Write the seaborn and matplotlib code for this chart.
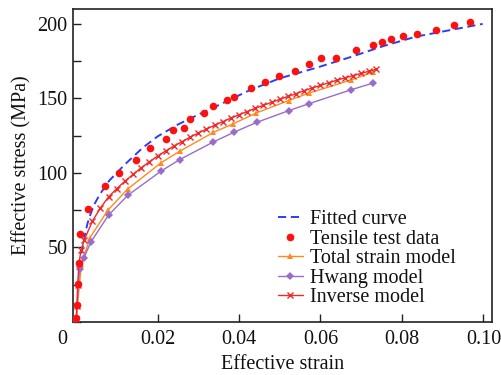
import matplotlib
matplotlib.use("Agg")
import matplotlib.pyplot as plt
import matplotlib.transforms as mtrans
from matplotlib.ticker import MultipleLocator, FixedLocator
from matplotlib.lines import Line2D
import seaborn as sns
import pandas as pd

# ---------------- data ----------------
fit_strain = [0.0013, 0.0017, 0.0022, 0.0028, 0.0035, 0.0045, 0.0058, 0.0082, 0.0119,
              0.0164, 0.020, 0.025, 0.0303, 0.035, 0.0426, 0.050, 0.0589, 0.0671,
              0.0753, 0.0835, 0.0998]
fit_stress = [46, 51, 59, 66, 72, 79, 85.5, 95, 105.5,
              117, 124.5, 132.5, 139.5, 145.5, 155.5, 163.5, 170.5, 177.5,
              185, 191.5, 200]

test_strain = [0.00005, 0.0002, 0.00044, 0.0007, 0.00103, 0.0029, 0.0071, 0.0105, 0.0147,
               0.0182, 0.0221, 0.0239, 0.0265, 0.0280, 0.0315, 0.0337, 0.0371, 0.0388,
               0.0430, 0.0464, 0.0498, 0.0538, 0.0571, 0.0602, 0.0638, 0.0687, 0.0728,
               0.0750, 0.0774, 0.0803, 0.0838, 0.0884, 0.0928, 0.0968]
test_stress = [2.5, 11.4, 25.2, 39.4, 58.9, 76.1, 91.0, 100.2, 108.4,
               116.5, 122.8, 129.0, 130.3, 136.5, 140.4, 145.2, 149.1, 151.1,
               156.9, 160.9, 164.9, 168.5, 173.0, 177.2, 177.2, 182.3, 185.7,
               187.7, 190.1, 191.7, 193.4, 196.1, 199.3, 201.3]

total_strain = [0.00005, 0.0013, 0.0034, 0.0078, 0.0127, 0.0209, 0.0254, 0.0337, 0.0386,
                0.0442, 0.0522, 0.0571, 0.0675, 0.0728]
total_stress = [2, 38.6, 56.5, 75, 89.3, 106.9, 114.5, 127.2, 133,
                140.2, 148.6, 153.5, 162.4, 167.6]

hwang_strain = [0.00005, 0.00086, 0.0019, 0.0036, 0.008, 0.0127, 0.0209, 0.0254, 0.0337,
                0.0387, 0.0443, 0.0523, 0.0571, 0.0675, 0.0728]
hwang_stress = [2, 35.7, 42.8, 53.5, 71.8, 85, 101.3, 108.9, 120.8,
                127.2, 133.9, 141.9, 146.4, 155.8, 160.2]

inverse_strain = [0.00005, 0.0002, 0.0004, 0.0007, 0.0012, 0.002, 0.004, 0.006, 0.008,
                  0.010, 0.012, 0.014, 0.016, 0.018, 0.020, 0.022, 0.024, 0.026,
                  0.028, 0.030, 0.032, 0.034, 0.036, 0.038, 0.040, 0.042, 0.044,
                  0.046, 0.048, 0.050, 0.052, 0.054, 0.056, 0.058, 0.060, 0.062,
                  0.064, 0.066, 0.068, 0.070, 0.072, 0.0737]
inverse_stress = [2, 11, 25, 39, 48, 55, 67.6, 76.6, 84,
                  89.5, 94.5, 99, 103.5, 107.5, 111.3, 114.8, 118, 121,
                  124, 126.8, 129.4, 132, 134.4, 136.8, 139, 141.2, 143.4,
                  145.4, 147.4, 149.4, 151.3, 153.2, 155.3, 157, 158.8, 160.5,
                  162.2, 163.8, 165.3, 166.8, 168.3, 169.6]

x_ticks = [0, 0.02, 0.04, 0.06, 0.08, 0.10]
x_tick_labels = ["0", "0.02", "0.04", "0.06", "0.08", "0.10"]
y_ticks = [50, 100, 150, 200]

# ---------------- style ----------------
sns.set_theme(style="ticks")
plt.rcParams["font.family"] = ["Liberation Serif", "DejaVu Serif"]

FS = 14.5
fig = plt.figure(figsize=(5.02, 3.75), dpi=100)
ax = fig.add_axes([73 / 502, 53 / 375, 419 / 502, 313 / 375])

c_blue = "#2b3ff5"
c_red = "#ff1010"
c_orange = "#ff8a1f"
c_purple = "#9a6cc9"
c_inv = "#f02828"


def add_line(df, **style):
    n0 = len(ax.lines)
    sns.lineplot(data=df, x="strain", y="stress", ax=ax, sort=False,
                 estimator=None, legend=False)
    line = ax.lines[n0]
    line.set(**style)
    return line


fit_df = pd.DataFrame({"strain": fit_strain, "stress": fit_stress})
test_df = pd.DataFrame({"strain": test_strain, "stress": test_stress})
tot_df = pd.DataFrame({"strain": total_strain, "stress": total_stress})
hw_df = pd.DataFrame({"strain": hwang_strain, "stress": hwang_stress})
inv_df = pd.DataFrame({"strain": inverse_strain, "stress": inverse_stress})

l_fit = add_line(fit_df, color=c_blue, linewidth=1.4, linestyle=(0, (4.2, 2.4)),
                 marker="None", zorder=2)
l_tot = add_line(tot_df, color=c_orange, linewidth=1.0, linestyle="-", marker="^",
                 markersize=4.2, markeredgewidth=0, markerfacecolor=c_orange, zorder=3)
l_hw = add_line(hw_df, color=c_purple, linewidth=1.0, linestyle="-", marker="D",
                markersize=3.6, markeredgewidth=0, markerfacecolor=c_purple, zorder=3)
l_inv = add_line(inv_df, color=c_inv, linewidth=1.0, linestyle="-", marker="x",
                 markersize=3.8, markeredgewidth=1.0, markeredgecolor=c_inv, zorder=4)
sns.scatterplot(data=test_df, x="strain", y="stress", ax=ax, color=c_red, s=30,
                linewidth=0, legend=False, zorder=5)

ax.set_xlim(-0.00075, 0.1021)
ax.set_ylim(0, 210)
ax.xaxis.set_major_locator(FixedLocator(x_ticks))
ax.set_xticklabels(x_tick_labels)
ax.yaxis.set_major_locator(FixedLocator(y_ticks))
ax.yaxis.set_minor_locator(MultipleLocator(25))

ax.tick_params(axis="both", which="both", direction="in", length=6, width=1.0,
               color="#222222", labelsize=FS, labelcolor="#111111")
ax.tick_params(axis="x", pad=6)
ax.tick_params(axis="y", pad=4)
ax.tick_params(top=False, right=False)

for sp in ax.spines.values():
    sp.set_visible(True)
    sp.set_linewidth(1.2)
    sp.set_color("#222222")

ax.set_xlabel("Effective strain", fontsize=FS, color="#111111", labelpad=4)
ax.set_ylabel("Effective stress (MPa)", fontsize=FS, color="#111111", labelpad=4)

# shift the "0" tick label left as in the reference
fig.canvas.draw()
for t in ax.xaxis.get_major_ticks():
    if t.label1.get_text() == "0":
        t.label1.set_transform(t.label1.get_transform() +
                               mtrans.ScaledTranslation(-14 / 100, 0, fig.dpi_scale_trans))

h_test = Line2D([], [], linestyle="None", marker="o", markersize=5.5,
                markerfacecolor=c_red, markeredgewidth=0)
handles = [l_fit, h_test, l_tot, l_hw, l_inv]
labels = ["Fitted curve", "Tensile test data", "Total strain model", "Hwang model", "Inverse model"]
leg = ax.legend(handles, labels, loc="upper left",
                bbox_to_anchor=(0.489, 0.357), frameon=False, fontsize=FS,
                handlelength=1.25, handletextpad=0.35, labelspacing=0.02,
                borderpad=0, borderaxespad=0, numpoints=1)
for txt in leg.get_texts():
    txt.set_color("#111111")

fig.savefig("out.png", dpi=100)
